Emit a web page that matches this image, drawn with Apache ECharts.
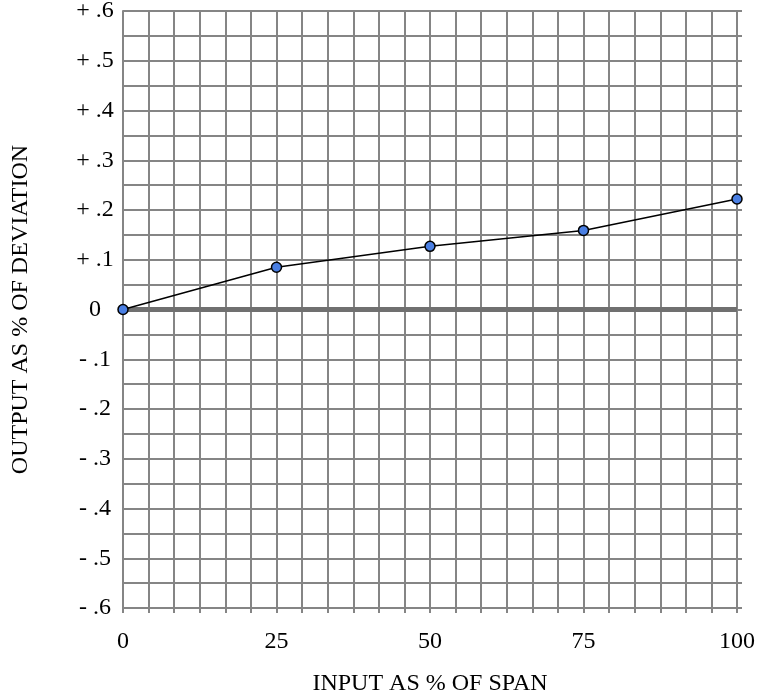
<!DOCTYPE html>
<html>
<head>
<meta charset="utf-8">
<script src="https://cdn.jsdelivr.net/npm/echarts@6/dist/echarts.min.js"></script>
<style>
  html, body { margin: 0; padding: 0; background: #fff; }
  #chart { width: 761px; height: 694px; }
</style>
</head>
<body>
<div id="chart"></div>
<script>
  // data
  var inputPct = [0, 25, 50, 75, 100];
  var outputDev = [0, 0.085, 0.127, 0.159, 0.222];
  var xTickLabels = ['0', '25', '50', '75', '100'];
  var yTickLabels = ['- .6', '- .5', '- .4', '- .3', '- .2', '- .1', '0', '+ .1', '+ .2', '+ .3', '+ .4', '+ .5', '+ .6'];
  var zeroRef = [0];

  var gridColor = '#858585';
  var serif = '"Liberation Serif", "Times New Roman", serif';
  var xStep = 25 / 6;   // 6 grid cells per labelled step
  var yStep = 0.05;     // 2 grid cells per labelled step

  var points = inputPct.map(function (x, i) { return [x, outputDev[i]]; });

  var option = {
    backgroundColor: '#fff',
    animation: false,
    grid: { left: 123, right: 24, top: 11, bottom: 86, containLabel: false, outerBoundsMode: 'none' },
    xAxis: {
      type: 'value',
      min: 0,
      max: 100,
      interval: xStep,
      name: 'INPUT AS % OF SPAN',
      nameLocation: 'middle',
      nameGap: 64,
      nameTextStyle: { fontFamily: serif, fontSize: 24, color: '#000' },
      axisLine: { show: true, onZero: false, lineStyle: { color: gridColor, width: 2 } },
      axisTick: { show: true, inside: false, length: 5, lineStyle: { color: gridColor, width: 2 } },
      splitLine: { show: true, lineStyle: { color: gridColor, width: 2 } },
      axisLabel: {
        margin: 22,
        fontFamily: serif,
        fontSize: 24,
        color: '#000',
        formatter: function (v) {
          var k = Math.round(v / xStep);
          return k % 6 === 0 ? xTickLabels[k / 6] : '';
        }
      }
    },
    yAxis: [{
      type: 'value',
      min: -0.6,
      max: 0.6,
      interval: yStep,
      name: 'OUTPUT AS % OF DEVIATION',
      nameLocation: 'middle',
      nameGap: 90,
      nameTextStyle: { fontFamily: serif, fontSize: 24, color: '#000' },
      axisLine: { show: true, onZero: false, lineStyle: { color: gridColor, width: 2 } },
      axisTick: { show: false },
      splitLine: { show: true, lineStyle: { color: gridColor, width: 2 } },
      axisLabel: {
        margin: 28,
        align: 'center',
        fontFamily: serif,
        fontSize: 24,
        color: '#000',
        formatter: function (v) {
          var k = Math.round((v + 0.6) / yStep);
          return k % 2 === 0 ? yTickLabels[k / 2] : '';
        }
      }
    }, {
      // right side: the little stubs past the frame
      type: 'value',
      position: 'right',
      min: -0.6,
      max: 0.6,
      interval: yStep,
      axisLine: { show: true, onZero: false, lineStyle: { color: gridColor, width: 2 } },
      axisTick: { show: true, inside: false, length: 5, lineStyle: { color: gridColor, width: 2 } },
      splitLine: { show: false },
      axisLabel: { show: false }
    }],
    series: [{
      type: 'line',
      data: points,
      symbol: 'circle',
      symbolSize: 10,
      z: 5,
      lineStyle: { color: '#000', width: 1.5 },
      itemStyle: { color: '#4a7fe3', borderColor: '#000', borderWidth: 1.5 },
      markLine: {
        silent: true,
        symbol: 'none',
        label: { show: false },
        lineStyle: { color: '#707070', width: 5, type: 'solid' },
        data: zeroRef.map(function (v) { return { yAxis: v }; })
      }
    }]
  };

  var chart = echarts.init(document.getElementById('chart'));
  chart.setOption(option);
</script>
</body>
</html>
